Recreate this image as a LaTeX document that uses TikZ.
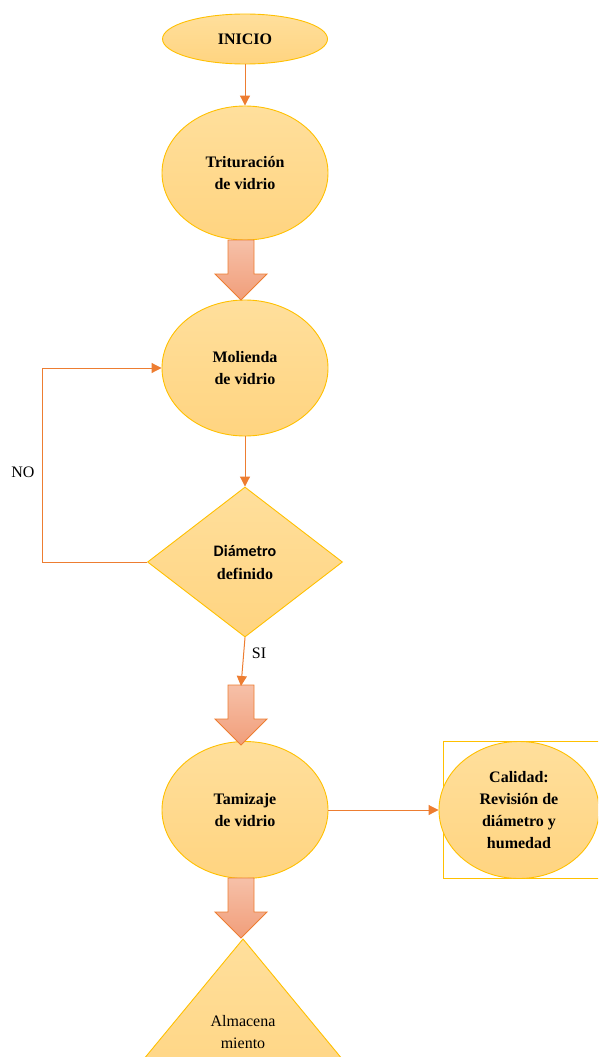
\documentclass[tikz,border=0pt]{standalone}
\usepackage{fontspec}
\setmainfont{Liberation Serif}
\newfontfamily\calibrifont{Carlito}
\usetikzlibrary{shapes.geometric,arrows.meta,calc}

\definecolor{fillTop}{RGB}{255,223,156}
\definecolor{fillBot}{RGB}{255,212,128}
\definecolor{goldline}{RGB}{255,192,0}
\definecolor{orangeline}{RGB}{237,125,49}
\definecolor{salmonTop}{RGB}{246,192,168}
\definecolor{salmonBot}{RGB}{241,158,122}

\tikzset{
  stage/.style={ellipse, draw=goldline, line width=0.9pt,
    top color=fillTop, bottom color=fillBot, inner sep=0pt,
    minimum width=166pt, minimum height=136pt, align=center,
    font=\fontsize{16}{22}\selectfont\bfseries},
  decision/.style={diamond, draw=goldline, line width=0.9pt,
    top color=fillTop, bottom color=fillBot, inner sep=0pt,
    minimum width=195pt, minimum height=150pt, align=center,
    font=\fontsize{16}{23}\selectfont\bfseries},
  conn/.style={draw=orangeline, line width=1pt,
    -{Triangle[width=10pt,length=10pt]}},
  lbl/.style={font=\fontsize{16}{20}\selectfont, inner sep=0pt},
  pics/bigarrow/.style={code={
    \path[draw=orangeline, line width=0.9pt,
      top color=salmonTop, bottom color=salmonBot]
      (-13,0) -- (13,0) -- (13,-34) -- (26,-34) -- (0,-60)
      -- (-26,-34) -- (-13,-34) -- cycle;
  }}
}

\begin{document}
\begin{tikzpicture}[x=1pt,y=1pt]
  \path[use as bounding box, clip] (0,0) rectangle (598,-1057);

  % process stages
  \node[stage, minimum width=165pt, minimum height=50pt] (ini) at (245,-39) {INICIO};
  \node[stage, minimum height=134pt] (trit) at (245,-173) {Trituración\\de vidrio};
  \node[stage] (mol) at (245,-368) {Molienda\\de vidrio};
  \node[decision] (diam) at (245,-562) {{\calibrifont\bfseries Diámetro}\\definido};
  \node[stage, minimum height=137pt] (tam) at (245,-810) {Tamizaje\\de vidrio};

  % quality check with its frame
  \draw[goldline, line width=0.9pt] (443,-741) rectangle (640,-878);
  \node[stage, minimum width=160pt, minimum height=137pt, font=\fontsize{16}{21.7}\selectfont\bfseries]
    (cal) at (519,-810) {Calidad:\\Revisión de\\diámetro y\\humedad};

  % storage triangle
  \coordinate (almtop) at (243,-939);
  \path[draw=goldline, line width=0.9pt, top color=fillTop, bottom color=fillBot]
    (almtop) -- ($(almtop)+(133,-161)$) -- ($(almtop)+(-133,-161)$) -- cycle;
  \node[lbl, align=center, font=\fontsize{16}{22}\selectfont] (alm) at (243,-1032)
    {Almacena\\miento};

  % block arrows between stages
  \pic at (241,-240) {bigarrow};
  \pic at (241,-685) {bigarrow};
  \pic at (241,-878) {bigarrow};

  % thin connectors
  \draw[conn] (ini) -- (trit);
  \draw[conn] (mol) -- (diam);
  \draw[conn] (diam.west) -- ++(-105,0) |- (mol.west);
  \coordinate (sitip) at (241,-686);
  \draw[conn] (diam.south) -- (sitip);
  \draw[conn] (tam) -- (cal);

  % branch labels
  \node[lbl] (no) at (23,-472) {NO};
  \node[lbl] (si) at (259,-653) {SI};
\end{tikzpicture}
\end{document}
